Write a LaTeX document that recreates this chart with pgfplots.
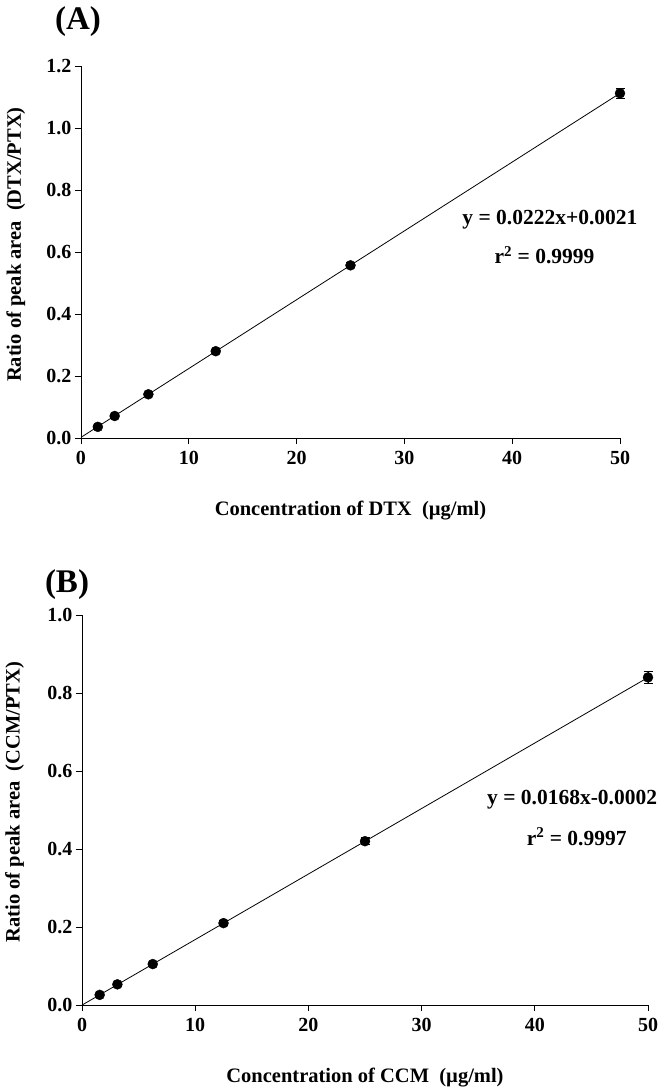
\documentclass[border=0pt]{standalone}
\usepackage{pgfplots}
\pgfplotsset{compat=1.18}
\usepackage{fontspec}
\setmainfont{Liberation Serif}
\newcommand{\tf}{\fontsize{20}{23}\selectfont\bfseries}
\newcommand{\lf}{\fontsize{20.5}{24}\selectfont\bfseries}
\newcommand{\ef}{\fontsize{21.5}{25}\selectfont\bfseries}
\begin{document}
\begin{tikzpicture}
\useasboundingbox (0pt,0pt) rectangle (666pt,-1092pt);
\pgfplotsset{
  calib/.style={
    scale only axis, clip=false,
    axis lines*=left, tick align=outside,
    axis line style={black, line width=0.8pt},
    tick style={black, line width=0.8pt}, major tick length=6pt,
    xmin=0, xmax=50, xtick={0,10,...,50},
    ticklabel style={font=\tf},
    xticklabel style={yshift=-4pt},
    /pgf/number format/assume math mode=true,
    yticklabel style={/pgf/number format/fixed, /pgf/number format/fixed zerofill, /pgf/number format/precision=1},
    label style={font=\lf},
  },
  pts/.style={only marks, mark=*, mark size=5pt, black,
    error bars/.cd, y dir=both, y explicit,
    error bar style={black, line width=0.8pt},
    error mark options={rotate=90, mark size=4.5pt, line width=0.8pt}},
}
% Panel A
\node[font=\fontsize{33}{36}\selectfont\bfseries] at (78pt,-22pt) {(A)};
\begin{axis}[calib, at={(81pt,-438pt)}, anchor=south west,
  width=539pt, height=372pt,
  ymin=0, ymax=1.2, ytick={0,0.2,...,1.2},
  xlabel={Concentration of DTX\ \ (\textmu g/ml)},
  ylabel={Ratio of peak area\ \ (DTX/PTX)},
  xlabel style={at={(axis description cs:0.5,-0.194)}, anchor=center},
  ylabel style={at={(axis description cs:-0.121,0.52)}, anchor=center},
]
\addplot[black, line width=0.8pt] coordinates {(0,0.0021) (50,1.1121)};
\addplot[pts] coordinates {
  (1.5625,0.036) +- (0,0.004)
  (3.125,0.071) +- (0,0.005)
  (6.25,0.141) +- (0,0.005)
  (12.5,0.280) +- (0,0.006)
  (25,0.557) +- (0,0.008)
  (50,1.112) +- (0,0.015)};
\node[font=\ef] at (axis cs:43.5,0.703) {y =\ 0.0222x+0.0021};
\node[font=\ef] at (axis cs:43.0,0.590) {r\textsuperscript{2} =\ 0.9999};
\end{axis}
% Panel B
\node[font=\fontsize{33}{36}\selectfont\bfseries] at (67pt,-585pt) {(B)};
\begin{axis}[calib, at={(82pt,-1005pt)}, anchor=south west,
  width=566pt, height=390pt,
  ymin=0, ymax=1.0, ytick={0,0.2,...,1.0},
  xlabel={Concentration of CCM\ \ (\textmu g/ml)},
  ylabel={Ratio of peak area\ \ (CCM/PTX)},
  xlabel style={at={(axis description cs:0.5,-0.185)}, anchor=center},
  ylabel style={at={(axis description cs:-0.119,0.52)}, anchor=center},
]
\addplot[black, line width=0.8pt] coordinates {(0,-0.0002) (50,0.8398)};
\addplot[pts] coordinates {
  (1.5625,0.026) +- (0,0.004)
  (3.125,0.053) +- (0,0.004)
  (6.25,0.105) +- (0,0.005)
  (12.5,0.210) +- (0,0.007)
  (25,0.420) +- (0,0.009)
  (50,0.840) +- (0,0.015)};
\node[font=\ef] at (axis cs:43.3,0.526) {y = 0.0168x-0.0002};
\node[font=\ef] at (axis cs:43.7,0.431) {r\textsuperscript{2} =\ 0.9997};
\end{axis}
\end{tikzpicture}
\end{document}
